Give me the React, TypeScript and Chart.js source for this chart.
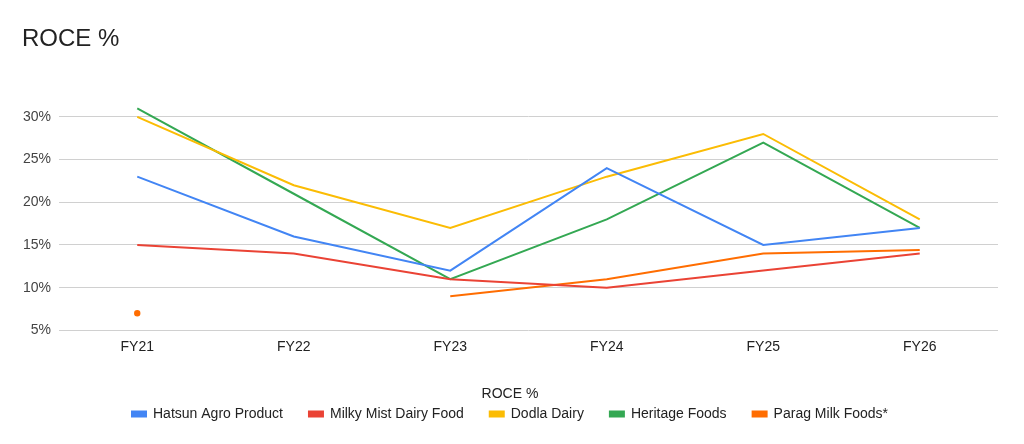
import { useEffect, useRef } from 'react';
import Chart from 'chart.js/auto';

const years = ['FY21', 'FY22', 'FY23', 'FY24', 'FY25', 'FY26'];
const hatsun = [23, 16, 12, 24, 15, 17];
const milkyMist = [15, 14, 11, 10, 12, 14];
const dodla = [30, 22, 17, 23, 28, 18];
const heritage = [31, 21, 11, 18, 27, 17];
const parag = [7, null, 9, 11, 14, 14.4];
const yTicks = [5, 10, 15, 20, 25, 30];

const FONT = "'Liberation Sans', Arial, sans-serif";

const App = () => {
  const canvasRef = useRef<HTMLCanvasElement>(null);

  useEffect(() => {
    document.body.style.margin = '0';
    if (!canvasRef.current) return;
    const line = (label: string, data: (number | null)[], color: string) => ({
      label,
      data,
      borderColor: color,
      backgroundColor: color,
      borderWidth: 2,
      pointRadius: 0,
      pointHoverRadius: 0,
      tension: 0,
    });
    const paragSet = {
      ...line('Parag Milk Foods*', parag, '#FF6D01'),
      // isolated value gets a dot, like the original
      pointRadius: (ctx: any) => {
        const i = ctx.dataIndex;
        const d = ctx.dataset.data;
        return d[i] != null && d[i - 1] == null && d[i + 1] == null ? 2.2 : 0;
      },
    };
    const chart = new Chart(canvasRef.current, {
      type: 'line',
      data: {
        labels: years,
        datasets: [
          line('Hatsun Agro Product', hatsun, '#4285F4'),
          line('Milky Mist Dairy Food', milkyMist, '#EA4335'),
          line('Dodla Dairy', dodla, '#FBBC04'),
          line('Heritage Foods', heritage, '#34A853'),
          paragSet,
        ],
      },
      options: {
        animation: false,
        responsive: true,
        maintainAspectRatio: false,
        layout: { padding: { left: 22, right: 26, top: 25, bottom: 13 } },
        plugins: {
          title: {
            display: true,
            text: 'ROCE %',
            align: 'start',
            color: '#222',
            font: { family: FONT, size: 24, weight: 'normal' },
            padding: { top: 0, bottom: 46 },
          },
          legend: {
            position: 'bottom',
            labels: {
              boxWidth: 14,
              boxHeight: 5,
              color: '#222',
              padding: 26,
              font: { family: FONT, size: 14 },
            },
            title: {
              display: true,
              text: 'ROCE %',
              color: '#222',
              padding: { top: 32, bottom: -23 },
              font: { family: FONT, size: 14 },
            },
          },
          tooltip: { enabled: false },
        },
        scales: {
          x: {
            offset: true,
            grid: { display: false },
            border: { display: false },
            ticks: { color: '#222', padding: 0, font: { family: FONT, size: 14 } },
          },
          y: {
            min: 5,
            max: 32,
            afterBuildTicks: (scale: any) => {
              scale.ticks = yTicks.map((v) => ({ value: v }));
            },
            afterFit: (scale: any) => {
              scale.width = 37;
            },
            grid: { color: '#d0d0d0', drawTicks: false },
            border: { display: false },
            ticks: {
              color: '#444',
              padding: 8,
              font: { family: FONT, size: 14 },
              callback: (v: any) => v + '%',
            },
          },
        },
      },
    });
    return () => chart.destroy();
  }, []);

  return (
    <div style={{ width: 1024, height: 444, position: 'relative' }}>
      <canvas ref={canvasRef} />
    </div>
  );
};

export default App;
